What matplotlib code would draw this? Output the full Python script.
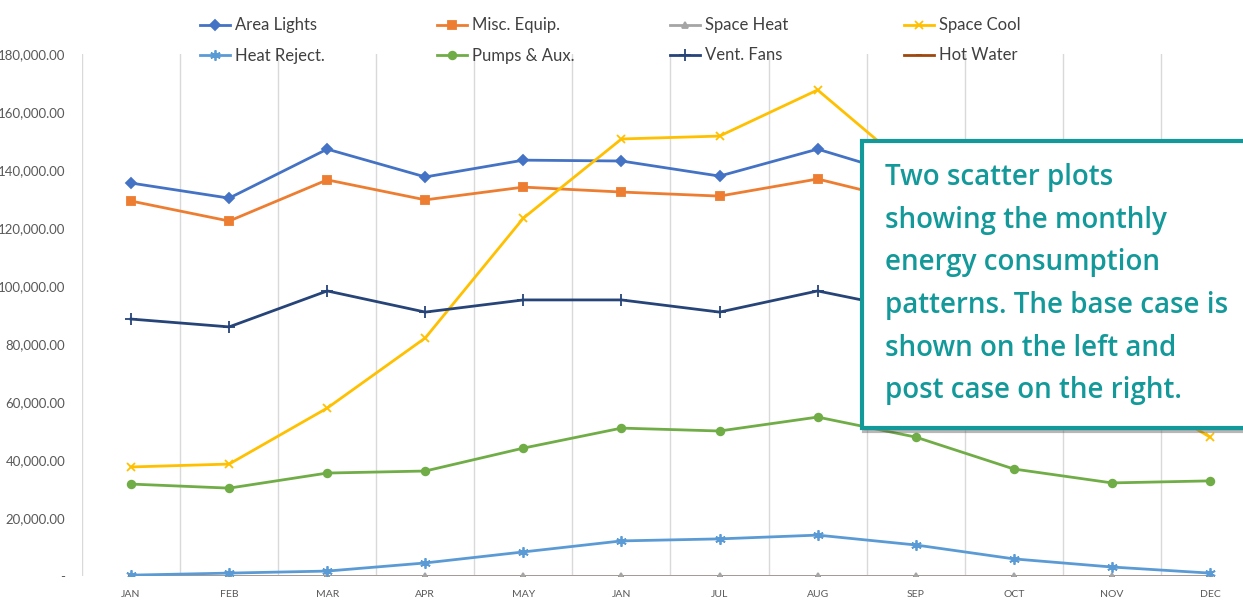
import numpy as np
import matplotlib.pyplot as plt
from matplotlib.patches import Rectangle, Shadow

months = ["JAN", "FEB", "MAR", "APR", "MAY", "JAN", "JUL", "AUG", "SEP", "OCT", "NOV", "DEC"]
y_ticks = [0, 20000, 40000, 60000, 80000, 100000, 120000, 140000, 160000, 180000]

area_lights = [135500, 130300, 147200, 137600, 143400, 143100, 137900, 147200, 137000, 143000, 132000, 135000]
misc_equip = [129300, 122400, 136600, 129700, 134100, 132400, 131000, 136900, 128600, 134000, 126000, 129000]
space_heat = [0] * 12
space_cool = [37600, 38600, 57900, 82100, 123400, 150700, 151700, 167600, 139000, 100000, 68000, 47900]
heat_reject = [300, 1000, 1700, 4500, 8300, 12100, 12800, 14100, 10700, 5900, 3100, 1000]
pumps_aux = [31700, 30300, 35500, 36200, 44100, 51000, 50000, 54800, 47900, 36900, 32100, 32800]
vent_fans = [88600, 85900, 98300, 91000, 95200, 95200, 91000, 98300, 91400, 95000, 87000, 89000]
hot_water = [0] * 12

note = ("Two scatter plots\nshowing the monthly\nenergy consumption\n"
        "patterns. The base case is\nshown on the left and\npost case on the right.")

W, H = 1243, 604
fig = plt.figure(figsize=(W / 100, H / 100), dpi=100)
ax = fig.add_axes([82 / W, 28 / H, 1177 / W, 522 / H])

x = np.arange(len(months))
series = [
    ("Area Lights", area_lights, "#4472C4", "D", 5),
    ("Misc. Equip.", misc_equip, "#ED7D31", "s", 5.5),
    ("Space Heat", space_heat, "#A5A5A5", "^", 5),
    ("Space Cool", space_cool, "#FFC000", "x", 6),
    ("Heat Reject.", heat_reject, "#5B9BD5", (6, 2, 0), 7.5),
    ("Pumps & Aux.", pumps_aux, "#70AD47", "o", 5.5),
    ("Vent. Fans", vent_fans, "#264478", "+", 8),
    ("Hot Water", hot_water, "#9E480E", "_", 5),
]
handles = {}
order_z = {"Hot Water": 2, "Space Heat": 3}
for name, vals, col, mk, ms in series:
    ln, = ax.plot(x, vals, color=col, lw=2, marker=mk, ms=ms, mew=1.3,
                  zorder=order_z.get(name, 4), label=name)
    handles[name] = ln

ax.set_xlim(-0.5, 11.5)
ax.set_ylim(0, 180000)
for b in np.arange(-0.5, 12, 1):
    ax.axvline(b, color="#D9D9D9", lw=1, zorder=1)
for s in ax.spines.values():
    s.set_visible(False)
ax.set_xticks(x)
ax.set_xticklabels(months, fontsize=7.5, color="#595959", family="Lato")
ax.set_yticks(y_ticks)
ax.set_yticklabels(["-"] + [f"{v:,.2f}" for v in y_ticks[1:]],
                   fontsize=9.5, color="#595959", family="Lato")
ax.tick_params(length=0, axis="y", pad=12)
ax.tick_params(length=0, axis="x", pad=10)

cols = [["Area Lights", "Heat Reject."], ["Misc. Equip.", "Pumps & Aux."],
        ["Space Heat", "Vent. Fans"], ["Space Cool", "Hot Water"]]
col_x = [192, 429, 662, 896]
for cx, names in zip(col_x, cols):
    fig.legend([handles[n] for n in names], names, loc="upper left",
               bbox_to_anchor=(cx / W, 1 - 9 / H), frameon=False,
               prop={"family": "Lato", "size": 12}, labelcolor="#404040",
               handlelength=1.75, handletextpad=0.35, labelspacing=0.85,
               borderpad=0)

box = Rectangle((862 / W, 176 / H), 0.4, (428 - 141) / H, transform=fig.transFigure,
                facecolor="white", edgecolor="#13999A", lw=3, zorder=10)
fig.add_artist(Shadow(box, 1.5 / W, -2 / H, transform=fig.transFigure,
                      facecolor="#d5d5d5", alpha=0.4, zorder=9))
fig.add_artist(box)
fig.text(885 / W, 1 - 163 / H, note, ha="left", va="top", fontsize=20,
         color="#13999A", family="Open Sans", weight="semibold",
         linespacing=1.62, zorder=11)

fig.savefig("out.png", dpi=100)
